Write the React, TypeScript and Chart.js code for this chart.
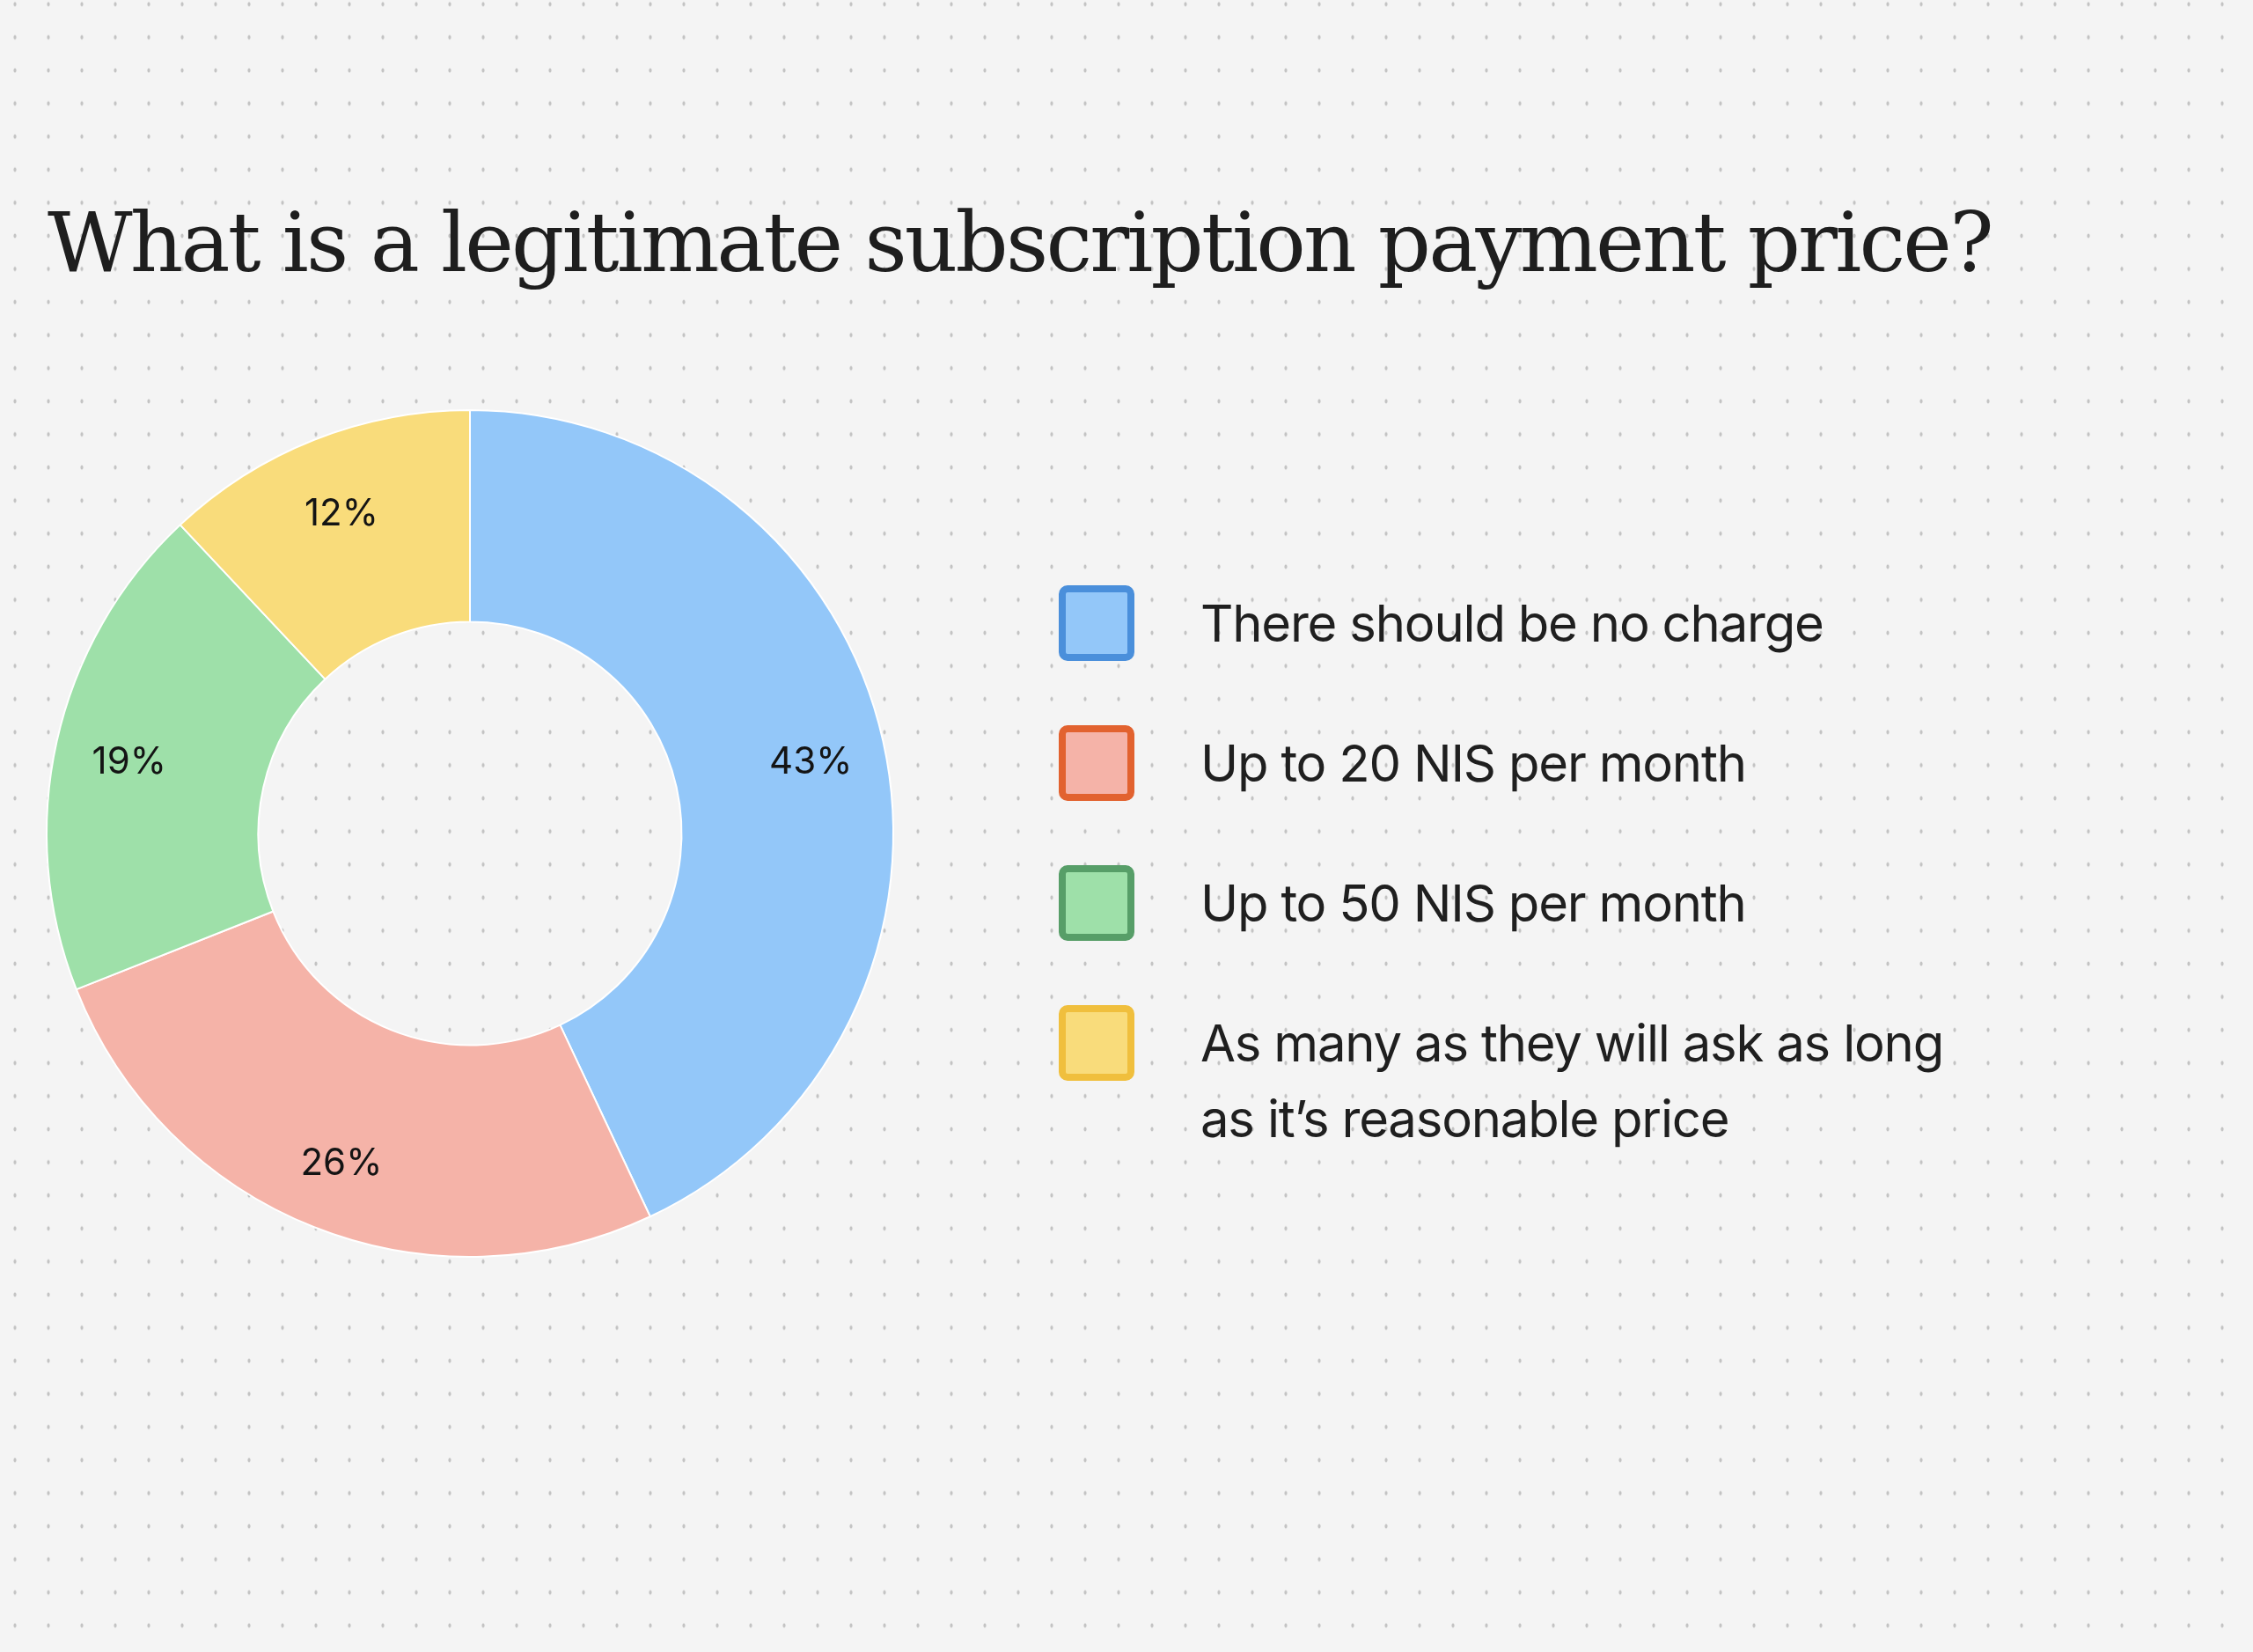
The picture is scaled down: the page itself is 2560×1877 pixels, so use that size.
import React, { useEffect, useRef } from 'react';
import { Chart, ChartConfiguration, Plugin, registerables } from 'chart.js';

Chart.register(...registerables);

// Chart data
const chartTitle = 'What is a legitimate subscription payment price?';
const categories = [
  'There should be no charge',
  'Up to 20 NIS per month',
  'Up to 50 NIS per month',
  'As many as they will ask as long as it’s reasonable price',
];
const shares = [43, 26, 19, 12];
const fillColors = ['#93c7f9', '#f5b3a8', '#9ee0a9', '#f9dc7b'];
const edgeColors = ['#4a8fdb', '#e2622f', '#579e68', '#f0bf3d'];

// Draws the percentage inside every slice
const sliceLabels: Plugin<'doughnut'> = {
  id: 'sliceLabels',
  afterDatasetsDraw(chart) {
    const { ctx } = chart;
    const meta = chart.getDatasetMeta(0);
    ctx.save();
    ctx.font = '400 42px Inter, sans-serif';
    ctx.fillStyle = '#141414';
    ctx.textAlign = 'center';
    ctx.textBaseline = 'middle';
    meta.data.forEach((arc, i) => {
      const p = arc.getProps(
        ['x', 'y', 'startAngle', 'endAngle', 'innerRadius', 'outerRadius'],
        true
      ) as any;
      const mid = (p.startAngle + p.endAngle) / 2;
      const r = p.innerRadius + (p.outerRadius - p.innerRadius) * 0.65;
      ctx.fillText(`${shares[i]}%`, p.x + Math.cos(mid) * r, p.y + Math.sin(mid) * r + 6);
    });
    ctx.restore();
  },
};

const App: React.FC = () => {
  const chartRef = useRef<HTMLCanvasElement | null>(null);
  const chartInstance = useRef<Chart | null>(null);

  useEffect(() => {
    if (!chartRef.current) return;
    if (chartInstance.current) chartInstance.current.destroy();

    const config: ChartConfiguration<'doughnut'> = {
      type: 'doughnut',
      data: {
        labels: categories,
        datasets: [
          {
            data: shares,
            backgroundColor: fillColors,
            borderColor: '#ffffff',
            borderWidth: 2,
          },
        ],
      },
      options: {
        responsive: true,
        maintainAspectRatio: false,
        animation: false,
        cutout: '50%',
        layout: { padding: 8 },
        plugins: {
          legend: { display: false },
          tooltip: { enabled: false },
        },
      },
      plugins: [sliceLabels],
    };

    chartInstance.current = new Chart(chartRef.current, config);

    return () => {
      if (chartInstance.current) {
        chartInstance.current.destroy();
        chartInstance.current = null;
      }
    };
  }, []);

  return (
    <div
      style={{
        position: 'absolute',
        left: 0,
        top: 0,
        width: 2560,
        height: 1877,
        overflow: 'hidden',
        backgroundColor: '#f4f4f4',
        backgroundImage:
          'radial-gradient(ellipse 2px 3px at 50% 50%, #c3c3c3 0%, #c3c3c3 55%, rgba(195,195,195,0) 100%)',
        backgroundSize: '38px 37.6px',
        backgroundPosition: '-2px -14px',
      }}
    >
      <div
        style={{
          position: 'absolute',
          left: 54,
          top: 216,
          fontFamily: '"DejaVu Serif", serif',
          fontSize: 94,
          lineHeight: '120px',
          letterSpacing: -2.8,
          color: '#1e1e1e',
          whiteSpace: 'nowrap',
        }}
      >
        {chartTitle}
      </div>

      <div style={{ position: 'absolute', left: 44, top: 457, width: 980, height: 980 }}>
        <canvas ref={chartRef} />
      </div>

      <div
        style={{
          position: 'absolute',
          left: 1203,
          top: 665,
          display: 'flex',
          flexDirection: 'column',
          gap: 73,
          fontFamily: 'Inter, sans-serif',
          fontSize: 58,
          letterSpacing: -1.2,
          color: '#1f1f1f',
        }}
      >
        {categories.map((c, i) => (
          <div key={c} style={{ display: 'flex', alignItems: 'flex-start' }}>
            <div
              style={{
                width: 86,
                height: 86,
                boxSizing: 'border-box',
                border: `8px solid ${edgeColors[i]}`,
                borderRadius: 10,
                backgroundColor: fillColors[i],
                flexShrink: 0,
              }}
            />
            <div style={{ marginLeft: 75, width: 880, lineHeight: '86px' }}>{c}</div>
          </div>
        ))}
      </div>
    </div>
  );
};

export default App;
